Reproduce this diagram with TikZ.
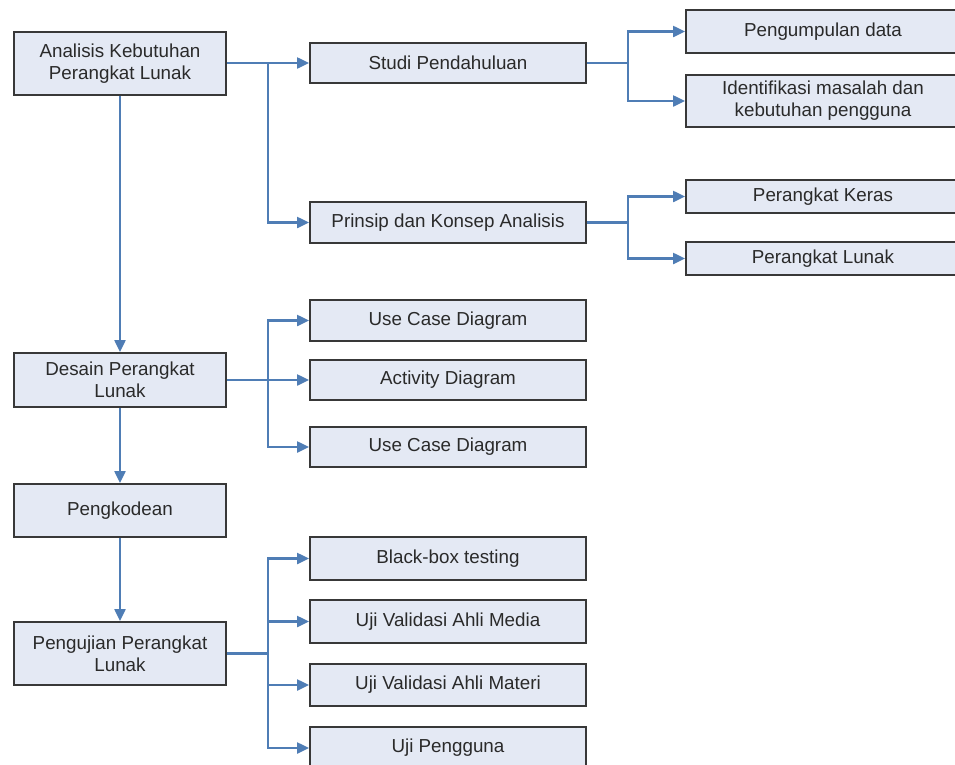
\documentclass[tikz,border=0pt]{standalone}
\usepackage{fontspec}
\setmainfont{Liberation Sans}
\usetikzlibrary{arrows.meta}
\definecolor{boxfill}{HTML}{E4E9F4}
\definecolor{boxline}{HTML}{383838}
\definecolor{flow}{HTML}{4F7DB5}
\definecolor{txt}{HTML}{2A2A2A}
\tikzset{
  stepbox/.style={draw=boxline, fill=boxfill, line width=1.8pt, inner sep=0pt,
    align=center, text=txt, font=\fontsize{18.8}{22}\selectfont},
  leftbox/.style={stepbox, minimum width=212pt},
  midbox/.style={stepbox, minimum width=276pt},
  rightbox/.style={stepbox, minimum width=274pt},
  link/.style={draw=flow, line width=2.1pt},
  arr/.style={link, -{Triangle[length=12pt,width=11pt]}},
}
\begin{document}
\begin{tikzpicture}[x=1pt,y=-1pt]
\clip (0,0) rectangle (955,764);
\fill[white] (0,0) rectangle (955,764);

% main column
\node[leftbox, minimum height=63pt] (A) at (120,63.5) {Analisis Kebutuhan\\Perangkat Lunak};
\node[leftbox, minimum height=54pt] (D) at (120,380) {Desain Perangkat\\Lunak};
\node[leftbox, minimum height=53pt] (K) at (120,510.5) {Pengkodean};
\node[leftbox, minimum height=63pt] (U) at (120,653.5) {Pengujian Perangkat\\Lunak};

% analysis branch
\node[midbox, minimum height=40pt] (S) at (448,63) {Studi Pendahuluan};
\node[midbox, minimum height=41pt] (P) at (448,222.5) {Prinsip dan Konsep Analisis};
\node[rightbox, minimum height=43pt] (S1) at (823,31.5) {Pengumpulan data};
\node[rightbox, minimum height=52pt] (S2) at (823,101) {Identifikasi masalah dan\\kebutuhan pengguna};
\node[rightbox, minimum height=33pt] (P1) at (823,196.5) {Perangkat Keras};
\node[rightbox, minimum height=33pt] (P2) at (823,258.5) {Perangkat Lunak};

% design branch
\node[midbox, minimum height=41pt] (D1) at (448,320.5) {Use Case Diagram};
\node[midbox, minimum height=40pt] (D2) at (448,380) {Activity Diagram};
\node[midbox, minimum height=40pt] (D3) at (448,447) {Use Case Diagram};

% testing branch
\node[midbox, minimum height=43pt] (T1) at (448,558.5) {Black-box testing};
\node[midbox, minimum height=43pt] (T2) at (448,621.5) {Uji Validasi Ahli Media};
\node[midbox, minimum height=42pt] (T3) at (448,685) {Uji Validasi Ahli Materi};
\node[midbox, minimum height=42pt] (T4) at (448,748) {Uji Pengguna};

% junction points
\coordinate (ja) at (268,63);
\coordinate (js) at (628,63);
\coordinate (jp) at (628,222.5);
\coordinate (jd) at (268,380);
\coordinate (ju) at (268,653.5);

% vertical flow
\draw[arr] (A.south) -- (D.north);
\draw[arr] (D.south) -- (K.north);
\draw[arr] (K.south) -- (U.north);

% analysis connectors
\draw[arr] (A.east |- ja) -- (S.west);
\draw[arr] (ja) |- (P.west);
\draw[link] (S.east) -- (js);
\draw[arr] (js) |- (S1.west);
\draw[arr] (js) |- (S2.west);
\draw[link] (P.east) -- (jp);
\draw[arr] (jp) |- (P1.west);
\draw[arr] (jp) |- (P2.west);

% design connectors
\draw[link] (D.east) -- (jd);
\draw[arr] (jd) |- (D1.west);
\draw[arr] (jd) -- (D2.west);
\draw[arr] (jd) |- (D3.west);

% testing connectors
\draw[link] (U.east) -- (ju);
\draw[arr] (ju) |- (T1.west);
\draw[arr] (ju) |- (T2.west);
\draw[arr] (ju) |- (T3.west);
\draw[arr] (ju) |- (T4.west);
\end{tikzpicture}
\end{document}
